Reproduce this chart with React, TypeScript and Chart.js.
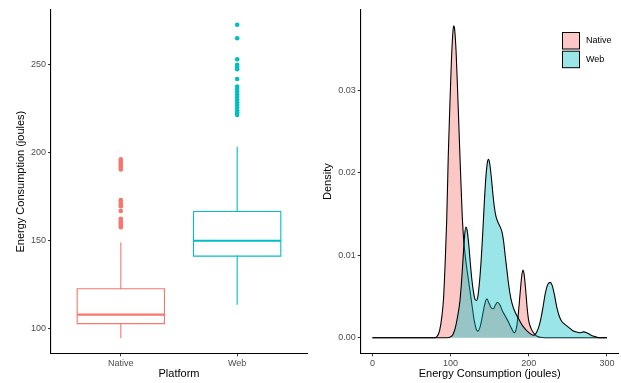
import React, { useEffect, useRef } from 'react';
import { Chart, registerables } from 'chart.js';

Chart.register(...registerables);

// ---------- Data: box plot (left panel) ----------
const categories = ['Native', 'Web'];
const seriesColors = ['#F8766D', '#00BFC4'];
const whiskerLow = [95.1, 114.0];
const q1 = [103.0, 141.3];
const median = [108.1, 150.0];
const q3 = [122.8, 166.6];
const whiskerHigh = [148.7, 203.0];
const nativeOutliers = [157.7, 158.6, 159.5, 160.5, 161.5, 162.5, 166.9, 169.6, 170.5, 171.5, 173.0, 190.4, 191.2, 192.0, 193.0, 194.0, 195.0, 196.1];
const webOutliers = [221.3, 222.5, 224.0, 225.5, 227.0, 228.5, 230.0, 231.5, 233.0, 234.5, 236.0, 237.4, 241.7, 247.2, 248.5, 249.7, 252.9, 264.8, 272.4];
const boxYTicks = [100, 150, 200, 250];

// ---------- Data: density (right panel) ----------
const densityXTicks = [0, 100, 200, 300];
const densityYTicks = [0, 0.01, 0.02, 0.03];
const legendLabels = ['Native', 'Web'];
const nativeX = [0, 75, 80, 83, 86, 89, 91, 93, 95, 97, 99, 101, 103, 104, 105, 107, 109, 111, 113, 115, 117, 119, 121, 124, 127, 130, 133, 135, 138, 141, 144, 146.5, 149, 152, 154.5, 157, 160, 163, 166, 170, 174, 178, 181.5, 184, 186.5, 189, 191, 192.5, 194, 196, 198, 200, 203, 206, 210, 215, 220, 300];
const nativeDensity = [0, 0, 0, 0.0002, 0.0009, 0.0027, 0.0048, 0.009, 0.0142, 0.022, 0.028, 0.0335, 0.0371, 0.0378, 0.0375, 0.0347, 0.0298, 0.0245, 0.0193, 0.0145, 0.0115, 0.0097, 0.0082, 0.0062, 0.0042, 0.0022, 0.001, 0.0008, 0.0014, 0.0028, 0.0042, 0.0047, 0.0042, 0.0036, 0.0035, 0.0039, 0.0043, 0.004, 0.0033, 0.0026, 0.0019, 0.0011, 0.0006, 0.0011, 0.0028, 0.0055, 0.0075, 0.0082, 0.0077, 0.0058, 0.0035, 0.002, 0.0011, 0.0006, 0.0002, 0.00005, 0, 0];
const webX = [0, 95, 100, 103, 106, 109, 112, 114, 116, 118, 119.6, 121, 123, 125, 127, 129, 131, 133, 135, 137, 139, 141, 143, 145, 147, 148.5, 150, 152, 154, 156, 158, 161, 164, 166, 168, 170, 172, 174, 177, 180, 183, 187, 191, 195, 199, 203, 206, 209, 212, 215, 218, 221, 224, 227.5, 230, 233, 236, 239, 242, 245, 249, 253, 257, 261, 266, 270, 274, 278, 282, 286, 290, 300];
const webDensity = [0, 0, 0.0001, 0.0004, 0.0012, 0.0026, 0.0045, 0.0068, 0.0097, 0.0125, 0.0134, 0.0131, 0.0115, 0.0093, 0.0072, 0.0057, 0.0047, 0.0045, 0.0051, 0.0068, 0.0093, 0.0125, 0.0162, 0.0193, 0.0212, 0.0216, 0.0211, 0.0195, 0.0175, 0.0158, 0.0147, 0.0139, 0.0133, 0.0127, 0.0115, 0.0098, 0.0082, 0.0066, 0.0048, 0.0037, 0.003, 0.0023, 0.0016, 0.0011, 0.0007, 0.0004, 0.0003, 0.0005, 0.0011, 0.0021, 0.0036, 0.0053, 0.0064, 0.0067, 0.0063, 0.0051, 0.0036, 0.0026, 0.002, 0.0017, 0.0014, 0.0011, 0.0008, 0.0007, 0.0006, 0.0007, 0.0006, 0.0004, 0.0002, 0.0001, 0, 0];

const FONT = "'Liberation Sans', Arial, Helvetica, sans-serif";
const fillColors = ['rgba(248,118,109,0.4)', 'rgba(0,191,196,0.4)'];

function axis(title: string, titlePadding: any, tickValues: number[], fmt: (v: number) => string, min: number, max: number, fit: (s: any) => void) {
  return {
    type: 'linear',
    min,
    max,
    bounds: 'data',
    border: { display: true, color: '#000000', width: 1.1 },
    grid: { display: true, drawOnChartArea: false, drawTicks: true, tickLength: 3, color: '#333333', lineWidth: 1 },
    ticks: {
      color: '#4D4D4D',
      font: { family: FONT, size: 9 },
      padding: 2,
      autoSkip: false,
      maxRotation: 0,
      minRotation: 0,
      callback: (v: any) => fmt(Number(v)),
    },
    title: {
      display: true,
      text: title,
      color: '#000000',
      font: { family: FONT, size: 11, lineHeight: 1.2 },
      padding: titlePadding,
    },
    afterBuildTicks: (s: any) => {
      s.ticks = tickValues.map((v) => ({ value: v }));
    },
    afterFit: fit,
  };
}

function BoxPanel() {
  const ref = useRef<HTMLCanvasElement>(null);
  useEffect(() => {
    const canvas = ref.current;
    if (!canvas) return;
    const half = 0.375;
    const datasets: any[] = [];
    categories.forEach((_c, i) => {
      const x = i + 1;
      const col = seriesColors[i];
      const line = { showLine: true, pointRadius: 0, borderColor: col, borderWidth: 1.1, tension: 0, fill: false, borderCapStyle: 'square', borderJoinStyle: 'miter' };
      datasets.push({ ...line, data: [{ x, y: whiskerLow[i] }, { x, y: q1[i] }] });
      datasets.push({ ...line, data: [{ x, y: q3[i] }, { x, y: whiskerHigh[i] }] });
      datasets.push({
        ...line,
        data: [
          { x: x - half, y: q1[i] },
          { x: x + half, y: q1[i] },
          { x: x + half, y: q3[i] },
          { x: x - half, y: q3[i] },
          { x: x - half, y: q1[i] },
        ],
      });
      datasets.push({ ...line, borderWidth: 2.1, borderCapStyle: 'butt', data: [{ x: x - half, y: median[i] }, { x: x + half, y: median[i] }] });
      const outs = i === 0 ? nativeOutliers : webOutliers;
      datasets.push({
        showLine: false,
        data: outs.map((y) => ({ x, y })),
        pointRadius: 2.3,
        pointBackgroundColor: col,
        pointBorderWidth: 0,
        pointBorderColor: col,
      });
    });
    const chart = new Chart(canvas, {
      type: 'scatter',
      data: { datasets },
      options: {
        responsive: false,
        animation: false,
        devicePixelRatio: 1,
        layout: { padding: { top: 10, right: 0, bottom: 0, left: 0 } },
        plugins: { legend: { display: false }, tooltip: { enabled: false } },
        scales: {
          x: axis('Platform', { top: 0, bottom: 2.4 }, [1, 2], (v) => categories[Math.round(v) - 1] ?? '', 0.4, 2.6, (s: any) => { s.height = 29.7; }) as any,
          y: axis('Energy Consumption (joules)', { top: 14.4, bottom: 0 }, boxYTicks, (v) => String(v), 86.2, 280.8, (s: any) => { s.width = 51; }) as any,
        },
      } as any,
    });
    return () => chart.destroy();
  }, []);
  return <canvas ref={ref} width={311} height={383} style={{ position: 'absolute', left: 0, top: 0, width: 311, height: 383 }} />;
}

const legendPlugin = {
  id: 'densityLegend',
  afterDraw(chart: any) {
    const ctx = chart.ctx;
    ctx.save();
    const bx = 252.5;
    const tops = [32.5, 51.2];
    legendLabels.forEach((label, i) => {
      ctx.fillStyle = '#ffffff';
      ctx.fillRect(bx, tops[i], 17, 16.5);
      ctx.fillStyle = fillColors[i];
      ctx.fillRect(bx, tops[i], 17, 16.5);
      ctx.strokeStyle = '#000000';
      ctx.lineWidth = 1;
      ctx.strokeRect(bx, tops[i], 17, 16.5);
      ctx.fillStyle = '#000000';
      ctx.font = `9px ${FONT}`;
      ctx.textAlign = 'left';
      ctx.textBaseline = 'middle';
      ctx.fillText(label, 276, tops[i] + 8.5);
    });
    ctx.restore();
  },
};

function DensityPanel() {
  const ref = useRef<HTMLCanvasElement>(null);
  useEffect(() => {
    const canvas = ref.current;
    if (!canvas) return;
    const common = { pointRadius: 0, borderColor: '#000000', borderWidth: 1.1, fill: 'origin', cubicInterpolationMode: 'monotone' };
    const chart = new Chart(canvas, {
      type: 'line',
      data: {
        datasets: [
          { ...common, label: 'Native', order: 2, backgroundColor: fillColors[0], data: nativeX.map((x, i) => ({ x, y: nativeDensity[i] })) },
          { ...common, label: 'Web', order: 1, backgroundColor: fillColors[1], data: webX.map((x, i) => ({ x, y: webDensity[i] })) },
        ],
      },
      options: {
        responsive: false,
        animation: false,
        devicePixelRatio: 1,
        layout: { padding: { top: 10, right: 2.3, bottom: 0, left: 0 } },
        plugins: { legend: { display: false }, tooltip: { enabled: false } },
        scales: {
          x: axis('Energy Consumption (joules)', { top: 0, bottom: 2.4 }, densityXTicks, (v) => String(v), -15, 315, (s: any) => { s.height = 29.7; }) as any,
          y: axis('Density', { top: 11.1, bottom: 0 }, densityYTicks, (v) => v.toFixed(2), -0.00189, 0.0397, (s: any) => { s.width = 50.7; }) as any,
        },
      } as any,
      plugins: [legendPlugin],
    });
    return () => chart.destroy();
  }, []);
  return <canvas ref={ref} width={311} height={383} style={{ position: 'absolute', left: 310, top: 0, width: 311, height: 383 }} />;
}

export default function App() {
  return (
    <div style={{ position: 'fixed', left: 0, top: 0, width: 621, height: 383, background: '#ffffff', overflow: 'hidden' }}>
      <DensityPanel />
      <BoxPanel />
    </div>
  );
}
